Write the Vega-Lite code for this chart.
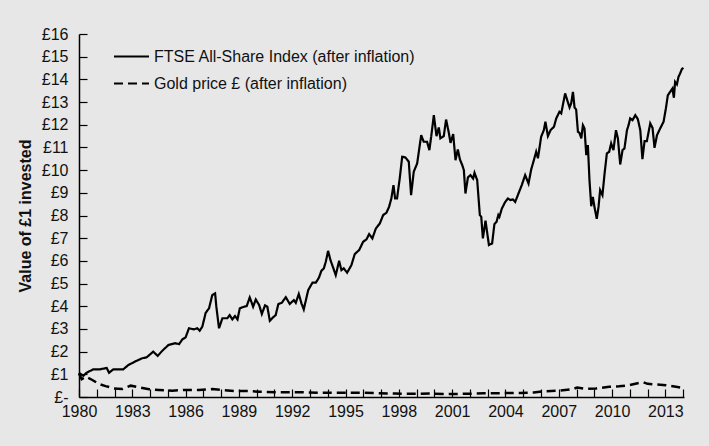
{
  "$schema": "https://vega.github.io/schema/vega-lite/v6.json",
  "width": 605,
  "height": 363,
  "autosize": {"type": "none"},
  "padding": {"left": 79, "top": 34, "right": 25, "bottom": 49},
  "background": "#e7e7e7",
  "config": {"view": {"stroke": null}, "font": "Liberation Sans"},
  "datasets": {
    "ftse": [
      {"year": 1980.00, "value": 1.07}, {"year": 1980.24, "value": 0.93}, {"year": 1980.43, "value": 1.07}, {"year": 1980.80, "value": 1.22},
      {"year": 1981.18, "value": 1.22}, {"year": 1981.56, "value": 1.28}, {"year": 1981.69, "value": 1.07}, {"year": 1981.93, "value": 1.22},
      {"year": 1982.49, "value": 1.22}, {"year": 1982.78, "value": 1.41}, {"year": 1983.15, "value": 1.56}, {"year": 1983.53, "value": 1.70},
      {"year": 1983.81, "value": 1.75}, {"year": 1984.18, "value": 2.00}, {"year": 1984.43, "value": 1.81}, {"year": 1984.69, "value": 2.04},
      {"year": 1985.03, "value": 2.29}, {"year": 1985.41, "value": 2.37}, {"year": 1985.63, "value": 2.33}, {"year": 1985.82, "value": 2.54},
      {"year": 1986.00, "value": 2.63}, {"year": 1986.19, "value": 3.03}, {"year": 1986.47, "value": 2.98}, {"year": 1986.66, "value": 3.03},
      {"year": 1986.79, "value": 2.92}, {"year": 1986.94, "value": 3.10}, {"year": 1987.13, "value": 3.71}, {"year": 1987.32, "value": 3.91},
      {"year": 1987.50, "value": 4.49}, {"year": 1987.66, "value": 4.57}, {"year": 1987.73, "value": 3.98}, {"year": 1987.88, "value": 3.03},
      {"year": 1988.07, "value": 3.47}, {"year": 1988.35, "value": 3.47}, {"year": 1988.48, "value": 3.61}, {"year": 1988.63, "value": 3.42},
      {"year": 1988.78, "value": 3.57}, {"year": 1988.92, "value": 3.42}, {"year": 1989.05, "value": 3.91}, {"year": 1989.29, "value": 3.98},
      {"year": 1989.44, "value": 4.01}, {"year": 1989.61, "value": 4.39}, {"year": 1989.80, "value": 3.98}, {"year": 1989.95, "value": 4.30},
      {"year": 1990.14, "value": 4.05}, {"year": 1990.29, "value": 3.66}, {"year": 1990.47, "value": 4.04}, {"year": 1990.60, "value": 3.98},
      {"year": 1990.74, "value": 3.36}, {"year": 1990.92, "value": 3.51}, {"year": 1991.07, "value": 3.61}, {"year": 1991.22, "value": 4.10},
      {"year": 1991.41, "value": 4.15}, {"year": 1991.64, "value": 4.40}, {"year": 1991.86, "value": 4.10}, {"year": 1992.09, "value": 4.27},
      {"year": 1992.20, "value": 4.15}, {"year": 1992.37, "value": 4.54}, {"year": 1992.52, "value": 4.13}, {"year": 1992.65, "value": 3.86},
      {"year": 1992.90, "value": 4.71}, {"year": 1993.14, "value": 5.04}, {"year": 1993.33, "value": 5.04}, {"year": 1993.51, "value": 5.27},
      {"year": 1993.64, "value": 5.56}, {"year": 1993.78, "value": 5.67}, {"year": 1993.89, "value": 5.96}, {"year": 1994.02, "value": 6.44},
      {"year": 1994.15, "value": 6.04}, {"year": 1994.30, "value": 5.71}, {"year": 1994.45, "value": 5.37}, {"year": 1994.64, "value": 6.00},
      {"year": 1994.77, "value": 5.59}, {"year": 1994.90, "value": 5.67}, {"year": 1995.09, "value": 5.48}, {"year": 1995.33, "value": 5.81},
      {"year": 1995.52, "value": 6.30}, {"year": 1995.77, "value": 6.48}, {"year": 1995.99, "value": 6.84}, {"year": 1996.18, "value": 6.95},
      {"year": 1996.33, "value": 7.18}, {"year": 1996.51, "value": 6.99}, {"year": 1996.71, "value": 7.43}, {"year": 1996.93, "value": 7.65},
      {"year": 1997.12, "value": 8.02}, {"year": 1997.30, "value": 8.12}, {"year": 1997.45, "value": 8.38}, {"year": 1997.58, "value": 8.75},
      {"year": 1997.70, "value": 9.34}, {"year": 1997.79, "value": 8.75}, {"year": 1997.90, "value": 8.75}, {"year": 1998.05, "value": 9.63},
      {"year": 1998.19, "value": 10.59}, {"year": 1998.37, "value": 10.56}, {"year": 1998.56, "value": 10.37}, {"year": 1998.69, "value": 8.90},
      {"year": 1998.84, "value": 9.93}, {"year": 1999.03, "value": 10.29}, {"year": 1999.26, "value": 11.54}, {"year": 1999.40, "value": 11.25},
      {"year": 1999.59, "value": 11.25}, {"year": 1999.72, "value": 10.88}, {"year": 1999.82, "value": 11.47}, {"year": 1999.97, "value": 12.42},
      {"year": 2000.12, "value": 11.50}, {"year": 2000.25, "value": 11.88}, {"year": 2000.34, "value": 11.40}, {"year": 2000.53, "value": 11.50},
      {"year": 2000.66, "value": 12.23}, {"year": 2000.82, "value": 11.62}, {"year": 2000.91, "value": 11.20}, {"year": 2001.06, "value": 11.59},
      {"year": 2001.19, "value": 10.44}, {"year": 2001.32, "value": 10.91}, {"year": 2001.44, "value": 10.47}, {"year": 2001.57, "value": 10.22},
      {"year": 2001.66, "value": 10.00}, {"year": 2001.75, "value": 8.97}, {"year": 2001.89, "value": 9.68}, {"year": 2002.03, "value": 9.78},
      {"year": 2002.18, "value": 9.63}, {"year": 2002.26, "value": 9.88}, {"year": 2002.41, "value": 9.56}, {"year": 2002.56, "value": 8.02},
      {"year": 2002.64, "value": 7.94}, {"year": 2002.73, "value": 6.99}, {"year": 2002.88, "value": 7.77}, {"year": 2003.07, "value": 6.70},
      {"year": 2003.25, "value": 6.77}, {"year": 2003.38, "value": 7.62}, {"year": 2003.50, "value": 7.72}, {"year": 2003.60, "value": 8.02},
      {"year": 2003.66, "value": 7.94}, {"year": 2003.80, "value": 8.31}, {"year": 2003.99, "value": 8.60}, {"year": 2004.14, "value": 8.75},
      {"year": 2004.28, "value": 8.68}, {"year": 2004.42, "value": 8.71}, {"year": 2004.55, "value": 8.60}, {"year": 2004.70, "value": 8.90},
      {"year": 2004.92, "value": 9.34}, {"year": 2005.11, "value": 9.78}, {"year": 2005.30, "value": 9.41}, {"year": 2005.45, "value": 10.03},
      {"year": 2005.60, "value": 10.44}, {"year": 2005.73, "value": 10.81}, {"year": 2005.83, "value": 10.52}, {"year": 2006.01, "value": 11.47},
      {"year": 2006.16, "value": 11.76}, {"year": 2006.25, "value": 12.13}, {"year": 2006.39, "value": 11.50}, {"year": 2006.54, "value": 11.76},
      {"year": 2006.73, "value": 11.91}, {"year": 2006.86, "value": 12.28}, {"year": 2007.04, "value": 12.57}, {"year": 2007.14, "value": 12.50},
      {"year": 2007.23, "value": 12.86}, {"year": 2007.36, "value": 13.38}, {"year": 2007.48, "value": 13.08}, {"year": 2007.61, "value": 12.76},
      {"year": 2007.70, "value": 12.94}, {"year": 2007.80, "value": 13.45}, {"year": 2007.89, "value": 12.76}, {"year": 2007.98, "value": 12.67},
      {"year": 2008.08, "value": 11.69}, {"year": 2008.17, "value": 11.64}, {"year": 2008.27, "value": 11.40}, {"year": 2008.36, "value": 11.98},
      {"year": 2008.45, "value": 11.84}, {"year": 2008.55, "value": 10.66}, {"year": 2008.64, "value": 11.10}, {"year": 2008.73, "value": 9.56},
      {"year": 2008.83, "value": 8.41}, {"year": 2008.92, "value": 8.82}, {"year": 2009.01, "value": 8.38}, {"year": 2009.14, "value": 7.85},
      {"year": 2009.24, "value": 8.38}, {"year": 2009.33, "value": 9.12}, {"year": 2009.46, "value": 8.90}, {"year": 2009.58, "value": 9.85},
      {"year": 2009.71, "value": 10.74}, {"year": 2009.84, "value": 10.81}, {"year": 2009.95, "value": 11.18}, {"year": 2010.08, "value": 10.88},
      {"year": 2010.22, "value": 11.76}, {"year": 2010.33, "value": 11.40}, {"year": 2010.46, "value": 10.25}, {"year": 2010.59, "value": 10.88},
      {"year": 2010.70, "value": 10.96}, {"year": 2010.84, "value": 11.76}, {"year": 2010.93, "value": 11.98}, {"year": 2011.02, "value": 12.28},
      {"year": 2011.15, "value": 12.20}, {"year": 2011.31, "value": 12.42}, {"year": 2011.45, "value": 12.25}, {"year": 2011.59, "value": 11.76},
      {"year": 2011.71, "value": 10.48}, {"year": 2011.83, "value": 11.28}, {"year": 2011.96, "value": 11.28}, {"year": 2012.15, "value": 12.06},
      {"year": 2012.28, "value": 11.86}, {"year": 2012.39, "value": 10.98}, {"year": 2012.53, "value": 11.54}, {"year": 2012.71, "value": 11.84},
      {"year": 2012.90, "value": 12.13}, {"year": 2013.03, "value": 12.72}, {"year": 2013.14, "value": 13.30}, {"year": 2013.27, "value": 13.45},
      {"year": 2013.40, "value": 13.60}, {"year": 2013.48, "value": 13.19}, {"year": 2013.55, "value": 13.89}, {"year": 2013.65, "value": 13.78},
      {"year": 2013.74, "value": 14.11}, {"year": 2013.83, "value": 14.26}, {"year": 2013.93, "value": 14.45}, {"year": 2014.02, "value": 14.51}
    ],
    "gold": [
      {"year": 1980.00, "value": 1.04}, {"year": 1980.15, "value": 0.78}, {"year": 1980.38, "value": 0.89}, {"year": 1980.75, "value": 0.75},
      {"year": 1981.13, "value": 0.57}, {"year": 1981.50, "value": 0.48}, {"year": 1981.97, "value": 0.38}, {"year": 1982.44, "value": 0.35},
      {"year": 1982.91, "value": 0.50}, {"year": 1983.38, "value": 0.43}, {"year": 1983.94, "value": 0.34}, {"year": 1984.50, "value": 0.31},
      {"year": 1985.25, "value": 0.28}, {"year": 1986.00, "value": 0.31}, {"year": 1986.76, "value": 0.31}, {"year": 1987.50, "value": 0.35},
      {"year": 1988.07, "value": 0.31}, {"year": 1988.82, "value": 0.26}, {"year": 1989.57, "value": 0.26}, {"year": 1990.14, "value": 0.23},
      {"year": 1991.26, "value": 0.21}, {"year": 1992.39, "value": 0.21}, {"year": 1993.50, "value": 0.19}, {"year": 1994.64, "value": 0.19},
      {"year": 1995.77, "value": 0.19}, {"year": 1996.80, "value": 0.17}, {"year": 1997.80, "value": 0.15}, {"year": 1998.80, "value": 0.14},
      {"year": 1999.80, "value": 0.15}, {"year": 2000.80, "value": 0.13}, {"year": 2001.80, "value": 0.14}, {"year": 2002.80, "value": 0.16},
      {"year": 2003.80, "value": 0.17}, {"year": 2004.80, "value": 0.18}, {"year": 2005.60, "value": 0.20}, {"year": 2006.10, "value": 0.25},
      {"year": 2007.00, "value": 0.28}, {"year": 2007.80, "value": 0.35}, {"year": 2008.04, "value": 0.42}, {"year": 2008.50, "value": 0.36},
      {"year": 2009.10, "value": 0.38}, {"year": 2009.84, "value": 0.45}, {"year": 2010.40, "value": 0.47}, {"year": 2010.97, "value": 0.52},
      {"year": 2011.50, "value": 0.62}, {"year": 2011.75, "value": 0.65}, {"year": 2012.00, "value": 0.58}, {"year": 2012.47, "value": 0.55},
      {"year": 2013.03, "value": 0.52}, {"year": 2013.60, "value": 0.45}, {"year": 2013.97, "value": 0.40}
    ]
  },
  "layer": [
    {
      "data": {"name": "ftse"},
      "transform": [{"calculate": "'FTSE All-Share Index (after inflation)'", "as": "series"}],
      "mark": {"type": "line", "strokeWidth": 2.2, "color": "black"},
      "encoding": {
        "x": {"field": "year", "type": "quantitative"},
        "y": {"field": "value", "type": "quantitative"},
        "strokeDash": {"field": "series", "type": "nominal"}
      }
    },
    {
      "data": {"name": "gold"},
      "transform": [{"calculate": "'Gold price £ (after inflation)'", "as": "series"}],
      "mark": {"type": "line", "strokeWidth": 2.5, "color": "black"},
      "encoding": {
        "x": {"field": "year", "type": "quantitative"},
        "y": {"field": "value", "type": "quantitative"},
        "strokeDash": {"field": "series", "type": "nominal"}
      }
    }
  ],
  "resolve": {"scale": {"strokeDash": "shared"}},
  "encoding": {
    "x": {
      "field": "year", "type": "quantitative",
      "scale": {"domain": [1980, 2014.05], "nice": false, "zero": false},
      "axis": {
        "title": null, "grid": false,
        "values": [1980,1981,1982,1983,1984,1985,1986,1987,1988,1989,1990,1991,1992,1993,1994,1995,1996,1997,1998,1999,2000,2001,2002,2003,2004,2005,2006,2007,2008,2009,2010,2011,2012,2013,2014],
        "format": "d",
        "labelExpr": "datum.value % 3 == 0 ? datum.label : ''",
        "labelOverlap": false, "labelFlush": false,
        "domainColor": "black", "domainWidth": 1.5,
        "tickColor": "black", "tickWidth": 1.2, "tickSize": -8,
        "labelFontSize": 16, "labelColor": "#111111", "labelPadding": 14
      }
    },
    "y": {
      "field": "value", "type": "quantitative",
      "scale": {"domain": [0, 16], "nice": false},
      "axis": {
        "title": "Value of £1 invested", "grid": false,
        "values": [0,1,2,3,4,5,6,7,8,9,10,11,12,13,14,15,16],
        "labelExpr": "datum.value == 0 ? '£-' : '£' + datum.value",
        "domainColor": "black", "domainWidth": 1.5,
        "tickColor": "black", "tickWidth": 1.2, "tickSize": -8,
        "labelFontSize": 16, "labelColor": "#111111", "labelPadding": 19,
        "titleFontSize": 16, "titleFontWeight": "bold", "titleColor": "#111111", "titlePadding": 8
      }
    },
    "strokeDash": {
      "field": "series", "type": "nominal",
      "scale": {"domain": ["FTSE All-Share Index (after inflation)", "Gold price £ (after inflation)"], "range": [[1, 0], [9, 5]]},
      "legend": {
        "orient": "none", "legendX": 34, "legendY": 4, "title": null, "padding": 0,
        "symbolType": "stroke", "symbolSize": 1225, "symbolStrokeWidth": 2, "symbolStrokeColor": "black",
        "labelFontSize": 16, "labelColor": "#111111", "labelOffset": 4, "rowPadding": -1, "labelLimit": 400
      }
    }
  }
}
